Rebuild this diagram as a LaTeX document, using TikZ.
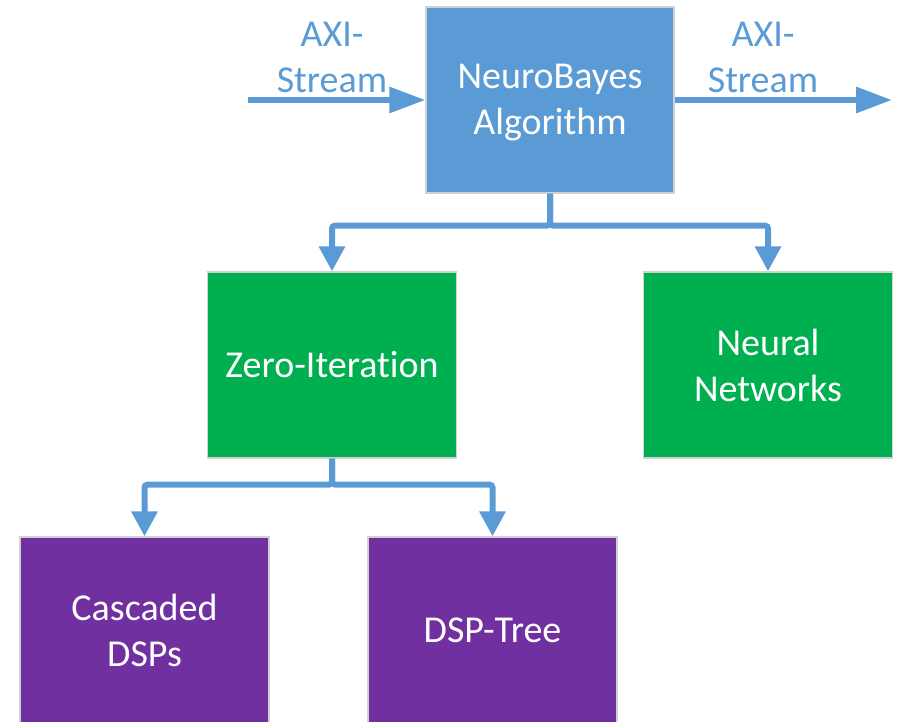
\documentclass[tikz,border=0pt]{standalone}
\usepackage{fontspec}
\setmainfont{Carlito}[Ligatures={NoCommon}]
\usetikzlibrary{arrows.meta}
\definecolor{nbblue}{HTML}{5B9BD5}
\definecolor{nbgreen}{HTML}{00B050}
\definecolor{nbpurple}{HTML}{7030A0}
\tikzset{
  boxbase/.style={draw=black!18, line width=1.2pt, text=white, align=center,
    inner sep=0pt, font=\fontsize{38}{46}\selectfont},
  bluebox/.style={boxbase, fill=nbblue, minimum width=248pt, minimum height=186pt},
  greenbox/.style={boxbase, fill=nbgreen, minimum width=249pt, minimum height=186pt},
  purplebox/.style={boxbase, fill=nbpurple, minimum width=249pt, minimum height=186pt},
  conn/.style={draw=nbblue, line width=6pt, rounded corners=3pt},
  hconn/.style={conn, -{Triangle[width=25pt,length=36pt]}},
  vconn/.style={conn, -{Triangle[width=25pt,length=25pt]}},
  lbl/.style={text=nbblue, align=center, inner sep=0pt, font=\fontsize{38}{46}\selectfont}
}
\begin{document}
\begin{tikzpicture}[x=1pt,y=-1pt]
\useasboundingbox (0,0) rectangle (897,722);
\node[bluebox] (nb) at (550,100) {};
\node[boxbase, draw=none] (nbtext) at (550,103) {NeuroBayes\\Algorithm};
\node[greenbox] (zi) at (332,365) {Zero-Iteration};
\node[greenbox] (nn) at (768,365) {Neural\\Networks};
\node[purplebox] (cd) at (144.5,630) {Cascaded\\DSPs};
\node[purplebox] (dt) at (492.5,630) {DSP-Tree};
\coordinate (in) at (248,100);
\coordinate (out) at (892,100);
\node[lbl] (axiin) at (332,57) {AXI-\\Stream};
\node[lbl] (axiout) at (763,57) {AXI-\\Stream};
\draw[hconn] (in) -- (nb.west);
\draw[hconn] (nb.east) -- (out);
\draw[vconn] (nb.south) -- ++(0,32) -| (zi.north);
\draw[vconn] (nb.south) -- ++(0,32) -| (nn.north);
\draw[vconn] (zi.south) -- ++(0,26) -| (cd.north);
\draw[vconn] (zi.south) -- ++(0,26) -| (dt.north);
\end{tikzpicture}
\end{document}
